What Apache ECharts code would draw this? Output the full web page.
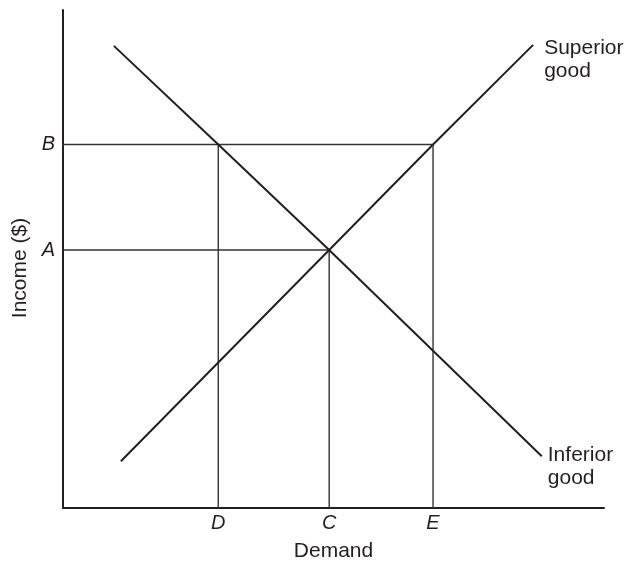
<!DOCTYPE html>
<html>
<head>
<meta charset="utf-8">
<script src="https://cdn.jsdelivr.net/npm/echarts@6/dist/echarts.min.js"></script>
<style>
html,body{margin:0;padding:0;background:#fff;}
#chart{width:627px;height:565px;}
</style>
</head>
<body>
<div id="chart"></div>
<script>
// Tick labels and their positions (abstract units, axes 0-100)
var demandLabels = ['D', 'C', 'E'];
var demandValues = [28.7, 49.2, 68.4];
var incomeLabels = ['A', 'B'];
var incomeValues = [51.8, 73.0];

// Curves
var inferiorGood = [[9.4, 92.8], [28.7, 73.0], [49.2, 51.8], [88.5, 10.4]];
var superiorGood = [[10.7, 9.4], [49.2, 51.8], [68.4, 73.0], [86.9, 93.0]];

var curveNames = ['Superior\ngood', 'Inferior\ngood'];

var D = demandValues[0], C = demandValues[1], E = demandValues[2];
var A = incomeValues[0], B = incomeValues[1];

// Guide segments built from tick positions
var guides = [
  [[0, B], [E, B]],
  [[0, A], [C, A]],
  [[D, 0], [D, B]],
  [[C, 0], [C, A]],
  [[E, 0], [E, B]]
];

var FONT = '"Liberation Sans", Arial, Helvetica, sans-serif';
var INK = '#231f20';

var series = [];
guides.forEach(function (seg) {
  series.push({
    type: 'line', data: seg, symbol: 'none', silent: true,
    lineStyle: { color: '#333333', width: 1.4 }
  });
});

series.push({
  type: 'line', symbol: 'none', silent: true,
  data: superiorGood,
  lineStyle: { color: INK, width: 2 },
  endLabel: { show: true, formatter: curveNames[0], distance: 11, offset: [0, 15],
    fontFamily: FONT, fontSize: 21, color: INK, lineHeight: 23 }
});
series.push({
  type: 'line', symbol: 'none', silent: true,
  data: inferiorGood,
  lineStyle: { color: INK, width: 2 },
  endLabel: { show: true, formatter: curveNames[1], distance: 6, offset: [0, 10],
    fontFamily: FONT, fontSize: 21, color: INK, lineHeight: 23 }
});

var chart = echarts.init(document.getElementById('chart'), null, { renderer: 'canvas' });
chart.setOption({
  animation: false,
  backgroundColor: '#ffffff',
  grid: { left: 63, right: 23, top: 10, bottom: 57, containLabel: false, outerBoundsMode: 'none' },
  xAxis: {
    type: 'value', min: 0, max: 100,
    name: 'Demand', nameLocation: 'middle', nameGap: 33,
    nameTextStyle: { fontFamily: FONT, fontSize: 21, color: INK },
    axisLine: { show: true, lineStyle: { color: INK, width: 2 } },
    axisTick: { show: false },
    splitLine: { show: false },
    axisLabel: {
      customValues: demandValues,
      formatter: function (v) { return demandLabels[demandValues.indexOf(v)] || ''; },
      fontFamily: FONT, fontSize: 20, fontStyle: 'italic', color: INK, margin: 5
    }
  },
  yAxis: {
    type: 'value', min: 0, max: 100,
    name: 'Income ($)', nameLocation: 'middle', nameGap: 31, nameRotate: 90,
    nameTextStyle: { fontFamily: FONT, fontSize: 21, color: INK, padding: [0, 18, 0, 0] },
    axisLine: { show: true, lineStyle: { color: INK, width: 2 } },
    axisTick: { show: false },
    splitLine: { show: false },
    axisLabel: {
      customValues: incomeValues,
      formatter: function (v) { return incomeLabels[incomeValues.indexOf(v)] || ''; },
      fontFamily: FONT, fontSize: 20, fontStyle: 'italic', color: INK, margin: 8
    }
  },
  series: series
});
</script>
</body>
</html>
